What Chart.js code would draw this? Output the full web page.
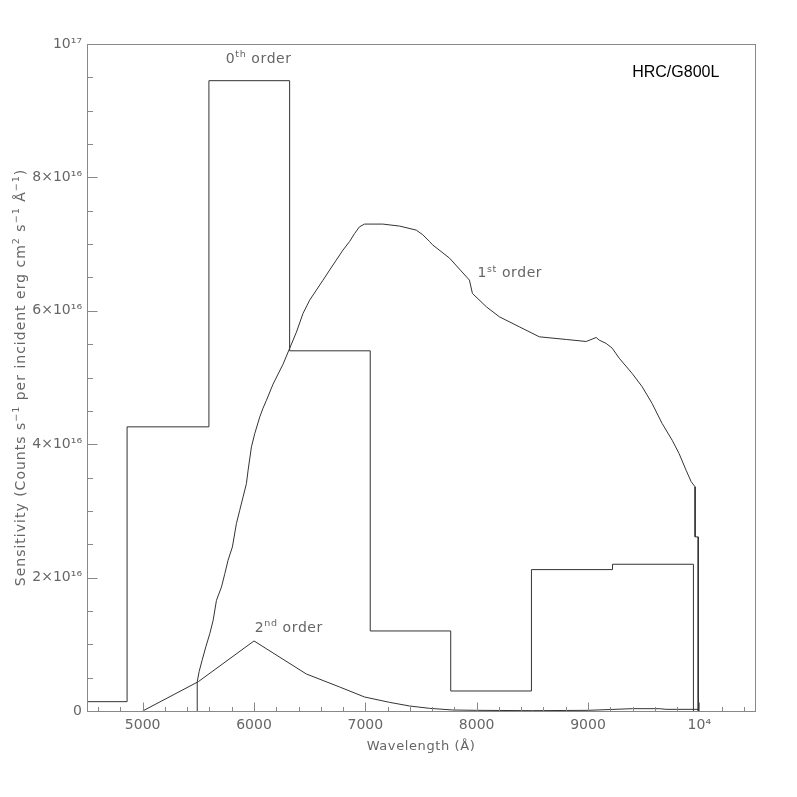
<!DOCTYPE html>
<html>
<head>
<meta charset="utf-8">
<script src="https://cdn.jsdelivr.net/npm/chart.js@4.4.0/dist/chart.umd.min.js"></script>
<style>
html, body { margin: 0; padding: 0; background: #fff; }
</style>
</head>
<body>
<canvas id="c" width="797" height="797"></canvas>
<script>
/* wavelengths in Angstrom, sensitivity in units of 1e16 */
var order0_wave = [4500, 4860, 5595, 6320, 7044, 7767, 8492, 9220, 9947];
var order0_sens = [0.14, 4.26, 9.45, 5.40, 1.20, 0.30, 2.12, 2.20, 0];

// order1 read in units of 1e15
var order1_wave = [5490, 5490, 5507, 5534, 5567, 5603, 5633, 5663, 5708, 5738, 5767, 5806,
  5842, 5872, 5902, 5932, 5947, 5977, 6007, 6052, 6081, 6112, 6171, 6261, 6321, 6381,
  6440, 6500, 6560, 6620, 6679, 6739, 6799, 6859, 6904, 6948, 6993, 7157, 7307, 7457,
  7516, 7576, 7603, 7756, 7935, 7962, 8087, 8204, 8383, 8563, 8805, 8984, 9074, 9101,
  9164, 9217, 9280, 9397, 9487, 9576, 9666, 9756, 9818, 9881, 9926, 9962, 9962, 9990, 9990];
var order1_sens = [0, 4.4, 5.9, 7.6, 9.6, 11.6, 13.6, 16.6, 18.6, 20.6, 22.6, 24.6,
  28.1, 30.1, 32.1, 34.1, 36.1, 39.6, 41.6, 44.1, 45.4, 46.6, 49.0, 52.0, 54.4, 56.8,
  59.6, 61.6, 63.1, 64.6, 66.1, 67.6, 69.1, 70.4, 71.6, 72.6, 73.0, 73.0, 72.7, 72.1,
  71.4, 70.4, 69.9, 67.9, 64.6, 62.6, 60.6, 59.1, 57.6, 56.1, 55.7, 55.4, 56.0, 55.6,
  55.1, 54.4, 52.9, 50.6, 48.6, 46.1, 43.1, 40.6, 38.6, 36.1, 34.4, 33.6, 26.1, 26.1, 0];

var order2_wave = [5000, 5500, 6000, 6470, 6769, 6993, 7217, 7397, 7576, 7783, 8000,
  8500, 9000, 9400, 9640, 9700, 9990, 10000];
var order2_sens = [0, 0.44, 1.05, 0.555, 0.36, 0.21, 0.13, 0.075, 0.04, 0.015, 0.01,
  0.005, 0.01, 0.035, 0.035, 0.025, 0.025, 0];

order1_sens = order1_sens.map(function (v) { return v / 10; });

var x_major = [5000, 6000, 7000, 8000, 9000, 10000];
var y_major = [0, 2, 4, 6, 8, 10];

// annotation texts: [wavelength, sensitivity, runs]
var notes = [
  [5747, 9.72, [['0', 0], ['th', 1], [' order', 0]]],
  [8007, 6.50, [['1', 0], ['st', 1], [' order', 0]]],
  [6007, 1.18, [['2', 0], ['nd', 1], [' order', 0]]]
];

function pts(xs, ys) {
  return xs.map(function (x, i) { return { x: x, y: ys[i] }; });
}

var TXT = '#666';
var FONT = '"DejaVu Sans", sans-serif';

function runsWidth(ctx, runs, size) {
  var w = 0;
  runs.forEach(function (r) {
    ctx.font = (r[1] ? size * 0.68 : size) + 'px ' + FONT;
    w += ctx.measureText(r[0]).width;
  });
  return w;
}

function drawRuns(ctx, runs, x, y, size, align) {
  var w = runsWidth(ctx, runs, size);
  if (align === 'center') x -= w / 2;
  runs.forEach(function (r) {
    ctx.font = (r[1] ? size * 0.68 : size) + 'px ' + FONT;
    ctx.fillText(r[0], x, r[1] ? y - size * 0.42 : y);
    x += ctx.measureText(r[0]).width;
  });
}

var decor = {
  id: 'decor',
  afterDatasetsDraw: function (chart) {
    var ctx = chart.ctx, a = chart.chartArea;
    var xs = chart.scales.x, ys = chart.scales.y;
    var L = Math.round(a.left) + 0.5, R = Math.round(a.right) + 0.5;
    var T = Math.round(a.top) + 0.5, B = Math.round(a.bottom) + 0.5;
    ctx.save();
    ctx.strokeStyle = '#888';
    ctx.lineWidth = 1;
    ctx.strokeRect(L, T, R - L, B - T);

    ctx.beginPath();
    xs.ticks.forEach(function (t) {
      var px = Math.round(xs.getPixelForValue(t.value)) + 0.5;
      var len = x_major.indexOf(t.value) >= 0 ? 9 : 4.5;
      ctx.moveTo(px, B); ctx.lineTo(px, B - len);
    });
    ys.ticks.forEach(function (t) {
      var py = Math.round(ys.getPixelForValue(t.value)) + 0.5;
      var len = y_major.indexOf(t.value) >= 0 ? 10 : 5.5;
      ctx.moveTo(L, py); ctx.lineTo(L + len, py);
    });
    ctx.stroke();

    ctx.fillStyle = TXT;
    ctx.textBaseline = 'alphabetic';
    ctx.textAlign = 'left';
    ctx.letterSpacing = '0.6px';
    notes.forEach(function (n) {
      drawRuns(ctx, n[2], xs.getPixelForValue(n[0]), ys.getPixelForValue(n[1]), 14, 'left');
    });

    // axis titles
    drawRuns(ctx, [['Wavelength (Å)', 0]], (a.left + a.right) / 2, 750, 13, 'center');
    ctx.save();
    ctx.letterSpacing = '1px';
    ctx.translate(25, (a.top + a.bottom) / 2);
    ctx.rotate(-Math.PI / 2);
    drawRuns(ctx, [['Sensitivity (Counts s', 0], ['−1', 1], [' per incident erg cm', 0],
      ['2', 1], [' s', 0], ['−1', 1], [' Å', 0], ['−1', 1], [')', 0]], 0, 0, 14, 'center');
    ctx.restore();

    ctx.letterSpacing = '0px';
    ctx.fillStyle = '#000';
    ctx.font = '16px "Liberation Sans", Arial, sans-serif';
    ctx.fillText('HRC/G800L', xs.getPixelForValue(9397), ys.getPixelForValue(9.50));
    ctx.restore();
  }
};

var line = { pointRadius: 0, borderWidth: 1, borderColor: '#333', fill: false, tension: 0 };

new Chart(document.getElementById('c'), {
  type: 'line',
  data: {
    datasets: [
      Object.assign({ label: '0th order', data: pts(order0_wave, order0_sens), stepped: 'before' }, line),
      Object.assign({ label: '1st order', data: pts(order1_wave, order1_sens) }, line),
      Object.assign({ label: '2nd order', data: pts(order2_wave, order2_sens) }, line)
    ]
  },
  options: {
    responsive: false,
    animation: false,
    layout: { padding: { top: 44, right: 42, left: 0, bottom: 0 } },
    plugins: { legend: { display: false }, tooltip: { enabled: false } },
    scales: {
      x: {
        type: 'linear', min: 4500, max: 10500,
        grid: { display: false, drawTicks: false },
        border: { display: false },
        afterBuildTicks: function (s) {
          var t = [];
          for (var v = 4600; v <= 10400; v += 200) t.push({ value: v });
          s.ticks = t;
        },
        afterFit: function (s) { s.height = 86; },
        ticks: {
          autoSkip: false, maxRotation: 0, padding: 6, color: TXT,
          font: { family: 'DejaVu Sans', size: 14 },
          callback: function (v) {
            if (x_major.indexOf(v) < 0) return '';
            return v === 10000 ? '10⁴' : String(v);
          }
        }
      },
      y: {
        type: 'linear', min: 0, max: 10,
        grid: { display: false, drawTicks: false },
        border: { display: false },
        afterBuildTicks: function (s) {
          var t = [];
          for (var i = 0; i <= 20; i++) t.push({ value: i / 2 });
          s.ticks = t;
        },
        afterFit: function (s) { s.width = 87; },
        ticks: {
          autoSkip: false, padding: 5, color: TXT,
          font: { family: 'DejaVu Sans', size: 14 },
          callback: function (v) {
            if (y_major.indexOf(v) < 0) return '';
            if (v === 0) return '0';
            if (v === 10) return '10¹⁷';
            return v + '×10¹⁶';
          }
        }
      }
    }
  },
  plugins: [decor]
});
</script>
</body>
</html>
